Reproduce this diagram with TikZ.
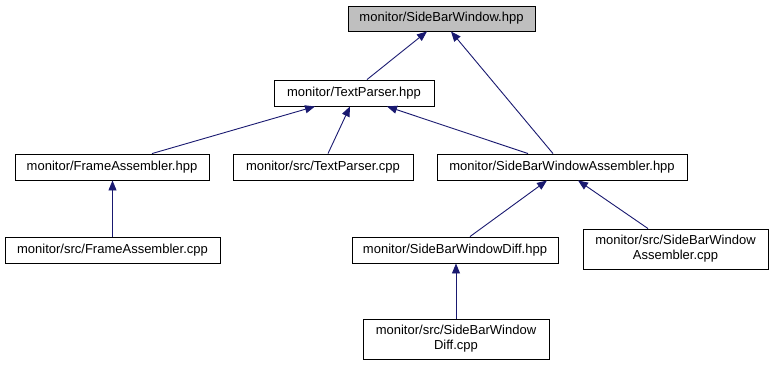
\documentclass[tikz,border=0pt]{standalone}
\usepackage{fontspec}
\setmainfont{Liberation Sans}
\usetikzlibrary{arrows.meta}

\definecolor{edgeblue}{RGB}{25,25,112}
\definecolor{rootgray}{RGB}{191,191,191}

\tikzset{
  file/.style={draw=black, line width=0.9pt, fill=white, inner sep=0pt,
    align=center, font=\fontsize{13}{15}\selectfont},
  root/.style={file, fill=rootgray},
  dep/.style={draw=edgeblue, line width=0.9pt,
    -{Triangle[length=10pt,width=8pt,fill=edgeblue]}},
}

\begin{document}
\begin{tikzpicture}[x=1pt,y=-1pt]
  \useasboundingbox (0,0) rectangle (773,365);

  % include graph nodes
  \node[root, minimum width=187pt, minimum height=25pt] (top)   at (441.5,18.5) {monitor/SideBarWindow.hpp};
  \node[file, minimum width=160pt, minimum height=26pt] (tp)    at (354,93)     {monitor/TextParser.hpp};
  \node[file, minimum width=194pt, minimum height=26pt] (fa)    at (112,167)    {monitor/FrameAssembler.hpp};
  \node[file, minimum width=180pt, minimum height=26pt] (tpc)   at (323,167)    {monitor/src/TextParser.cpp};
  \node[file, minimum width=250pt, minimum height=26pt] (sbwa)  at (562,167)    {monitor/SideBarWindowAssembler.hpp};
  \node[file, minimum width=215pt, minimum height=26pt] (fac)   at (112.5,250)  {monitor/src/FrameAssembler.cpp};
  \node[file, minimum width=206pt, minimum height=26pt] (sbwd)  at (455,250)    {monitor/SideBarWindowDiff.hpp};
  \node[file, minimum width=185pt, minimum height=40pt] (sbwac) at (675.5,249)  {monitor/src/SideBarWindow\\Assembler.cpp};
  \node[file, minimum width=186pt, minimum height=40pt] (sbwdc) at (456,339)    {monitor/src/SideBarWindow\\Diff.cpp};

  % include edges
  \draw[dep] ([xshift=13pt]tp.north)     -- ([xshift=-14.5pt]top.south);
  \draw[dep] ([xshift=-9pt]sbwa.north)   -- ([xshift=9.5pt]top.south);
  \draw[dep] ([xshift=40pt]fa.north)     -- ([xshift=-39pt]tp.south);
  \draw[dep] ([xshift=5pt]tpc.north)     -- ([xshift=-4pt]tp.south);
  \draw[dep] ([xshift=-34pt]sbwa.north)  -- ([xshift=33pt]tp.south);
  \draw[dep] (fac.north)                 -- (fac.north |- fa.south);
  \draw[dep] ([xshift=15pt]sbwd.north)   -- ([xshift=-15pt]sbwa.south);
  \draw[dep] ([xshift=-27.5pt]sbwac.north) -- ([xshift=16pt]sbwa.south);
  \draw[dep] (sbwdc.north)               -- (sbwdc.north |- sbwd.south);
\end{tikzpicture}
\end{document}
